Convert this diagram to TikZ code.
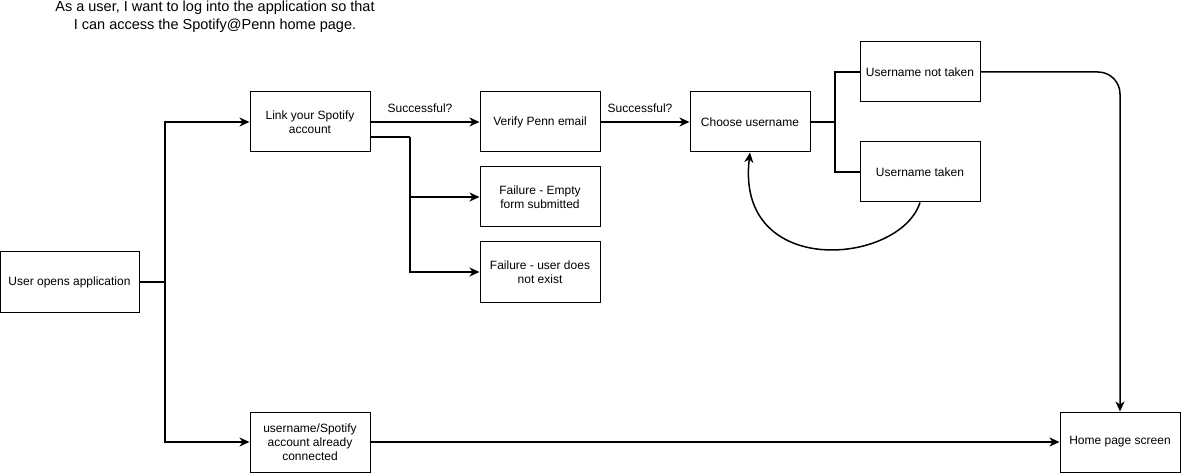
\documentclass[tikz,border=0pt]{standalone}
\usepackage{fontspec}
\setmainfont{Liberation Sans}
\usetikzlibrary{arrows.meta}

\begin{document}
\begin{tikzpicture}[x=1pt,y=-1pt,
  box/.style={draw,line width=1pt,minimum width=120pt,minimum height=60pt,
    align=center,inner sep=2pt,font=\fontsize{12}{14}\selectfont},
  conn/.style={line width=1.5pt},
  arr/.style={conn,-{Stealth[length=10pt,width=9pt,inset=3pt]}},
  lbl/.style={font=\fontsize{12}{14}\selectfont}]
  \useasboundingbox (0,0) rectangle (1181,473);

  % title
  \node[align=center,font=\fontsize{14.5}{18}\selectfont] (title) at (215,17) {As a user, I want to log into the application so that\\I can access the Spotify@Penn home page.};

  % boxes
  \node[box,minimum width=139pt] (open) at (69.5,282) {User opens application};
  \node[box] (link) at (310,122) {Link your Spotify\\account};
  \node[box] (verify) at (540,122) {Verify Penn email};
  \node[box] (empty) at (540,197) {Failure - Empty\\form submitted};
  \node[box] (nouser) at (540,272) {Failure - user does\\not exist};
  \node[box] (choose) at (750,122) {Choose username};
  \node[box] (nottaken) at (920,72) {Username not taken};
  \node[box] (taken) at (920,172) {Username taken};
  \node[box] (already) at (310,442) {username/Spotify\\account already\\connected};
  \node[box] (home) at (1120,442) {Home page screen};

  % connectors
  \coordinate (fork) at (165,282);
  \draw[conn] (open.east) -- (fork);
  \draw[arr] (fork) |- (link.west);
  \draw[arr] (fork) |- (already.west);

  \draw[arr] (link) -- (verify) node[lbl,midway,above=5pt,xshift=-5pt] {Successful?};
  \coordinate (split) at (410,137);
  \draw[conn] ([yshift=-15pt]link.east) -- (split);
  \draw[arr] (split) |- (empty.west);
  \draw[arr] (split) |- (nouser.west);

  \draw[arr] (verify) -- (choose) node[lbl,midway,above=5pt,xshift=-5pt] {Successful?};
  \coordinate (branch) at (835,122);
  \draw[conn] (choose.east) -- (branch);
  \draw[conn] (branch) |- (nottaken.west);
  \draw[conn] (branch) |- (taken.west);
  \draw[arr] (taken.south) .. controls (900,265) and (735,280) .. (choose.south);

  \draw[arr,rounded corners=22pt] (nottaken.east) -| (home.north);
  \draw[arr] (already) -- (home);
\end{tikzpicture}
\end{document}
